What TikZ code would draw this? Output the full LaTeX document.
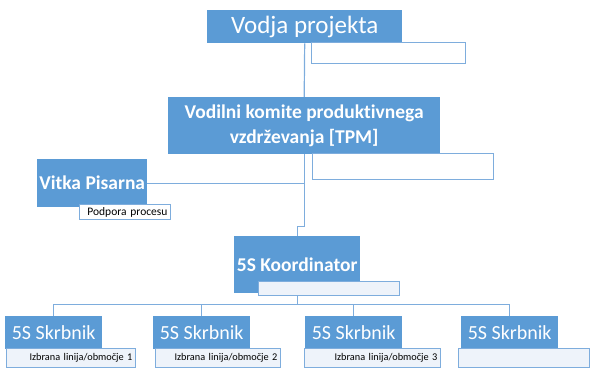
\documentclass[tikz,border=0pt]{standalone}
\usepackage{fontspec}
\setmainfont{Carlito}[Ligatures=NoCommon]
\usetikzlibrary{backgrounds}
\definecolor{boxblue}{HTML}{5B9BD5}
\definecolor{lineblue}{HTML}{7EADDD}
\definecolor{capfill}{HTML}{EEF3FA}
\tikzset{
  role/.style={fill=boxblue, draw=none, text=white, anchor=north west, inner sep=0pt, align=center},
  caption/.style={fill=white, draw=lineblue, line width=1pt, anchor=north west, inner sep=0pt,
    align=right, font=\fontsize{11.5}{13}\selectfont, text=black},
  softcap/.style={caption, fill=capfill},
  link/.style={draw=lineblue, line width=1.2pt},
}
\begin{document}
\begin{tikzpicture}[x=1pt, y=-1pt]
\useasboundingbox (0,0) rectangle (590,376);

% top level
\node[role, minimum width=195pt, minimum height=33pt, font=\fontsize{25}{28}\selectfont] (vp) at (207,10) {Vodja projekta};
\node[caption, minimum width=154pt, minimum height=21pt] (vpc) at (311,42) {};

% steering committee
\node[role, minimum width=272pt, minimum height=57pt, font=\bfseries\fontsize{19.5}{25}\selectfont] (tpm) at (168,97) {Vodilni komite produktivnega\\vzdrževanja [TPM]};
\node[caption, minimum width=181pt, minimum height=26pt] (tpmc) at (312,153) {};

% lean office
\node[role, minimum width=110pt, minimum height=48pt, font=\bfseries\fontsize{19.5}{22}\selectfont] (lean) at (37,159) {Vitka Pisarna};
\node[caption, minimum height=15pt, text width=85pt, inner xsep=3pt] (leanc) at (79,204) {Podpora procesu};

% 5S coordinator
\node[role, minimum width=126pt, minimum height=57pt, font=\bfseries\fontsize{19.5}{22}\selectfont] (koord) at (234,236) {5S Koordinator};
\node[softcap, minimum width=141pt, minimum height=14pt] (koordc) at (258,281) {};

% 5S owners
\foreach \i/\x/\cx/\cw/\txt in {1/5/6/129/{Izbrana linija/območje 1},
                                 2/153/155/125/{Izbrana linija/območje 2},
                                 3/305/304/136/{Izbrana linija/območje 3},
                                 4/461/458/131/{}} {
  \node[role, minimum width=97pt, minimum height=33pt, font=\fontsize{20}{23}\selectfont] (s\i) at (\x,316) {5S Skrbnik};
  \node[softcap, minimum height=19pt, text width=\cw pt-6pt, inner xsep=3pt,
        font=\fontsize{10.3}{12}\selectfont] (s\i c) at (\cx,348) {\txt};
}

% connectors behind the boxes
\begin{pgfonlayer}{background}
  \draw[link] (vp.south) -- (tpm.north);
  \draw[link] (tpm.south) -- ++(0,72) coordinate (jog) -- (jog -| koord.north) -- (koord.north);
  \draw[link] (lean.east) -- (lean.east -| tpm.south);
  \draw[link] (koord.south) -- ++(0,11) coordinate (bus);
  \draw[link] (s1.north) |- (bus) -| (s4.north);
  \draw[link] (s2.north) -- (s2.north |- bus);
  \draw[link] (s3.north) -- (s3.north |- bus);
\end{pgfonlayer}
\end{tikzpicture}
\end{document}
